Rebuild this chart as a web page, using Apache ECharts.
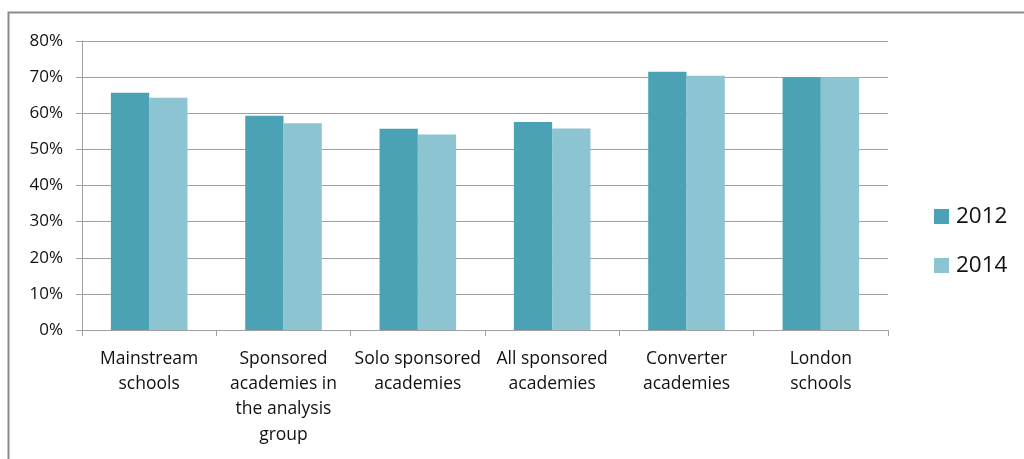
<!DOCTYPE html>
<html><head><meta charset="utf-8">
<script src="https://cdn.jsdelivr.net/npm/echarts@6/dist/echarts.min.js"></script>
<style>html,body{margin:0;padding:0;background:#fff;}#c{width:1024px;height:459px;}</style>
</head><body><div id="c"></div>
<script>
const categories = ["Mainstream\nschools","Sponsored\nacademies in\nthe analysis\ngroup","Solo sponsored\nacademies","All sponsored\nacademies","Converter\nacademies","London\nschools"];
const seriesNames = ["2012","2014"];
const values2012 = [65.7, 59.3, 55.7, 57.6, 71.5, 70.0];
const values2014 = [64.3, 57.2, 54.1, 55.8, 70.4, 70.0];
const yTicks = [0,10,20,30,40,50,60,70,80];

const chart = echarts.init(document.getElementById('c'));
const font = '"Open Sans", sans-serif';
chart.setOption({
  animation:false,
  graphic:[{type:'rect',shape:{x:8.5,y:12.5,width:1100,height:500},style:{fill:'none',stroke:'#8c8c8c',lineWidth:2},silent:true}],
  grid:{left:82,right:136,top:41,bottom:129},
  legend:{orient:'vertical',left:929,top:200,itemWidth:15,itemHeight:15,itemGap:26,icon:'rect',
    textStyle:{fontFamily:font,fontSize:22.5,color:'#111',padding:[0,0,0,2]},data:seriesNames},
  xAxis:{type:'category',data:categories,
    axisLine:{lineStyle:{color:'#a0a0a0',width:1}},
    axisTick:{show:true,length:6,lineStyle:{color:'#a0a0a0'}},
    axisLabel:{fontFamily:font,fontSize:17.5,color:'#111',lineHeight:25.3,margin:16,interval:0}},
  yAxis:{type:'value',min:yTicks[0],max:yTicks[yTicks.length-1],interval:10,
    axisLine:{show:true,lineStyle:{color:'#a0a0a0'}},
    axisTick:{show:true,length:6,lineStyle:{color:'#a0a0a0'}},
    splitLine:{lineStyle:{color:'#a0a0a0',width:1}},
    axisLabel:{fontFamily:font,fontSize:17,color:'#111',margin:19,formatter:v=>v+'%'}},
  series:[
    {name:seriesNames[0],type:'bar',data:values2012,barGap:'0%',barCategoryGap:'43%',itemStyle:{color:'#4aa2b4'}},
    {name:seriesNames[1],type:'bar',data:values2014,itemStyle:{color:'#8cc4d2'}}
  ]
});
</script></body></html>
